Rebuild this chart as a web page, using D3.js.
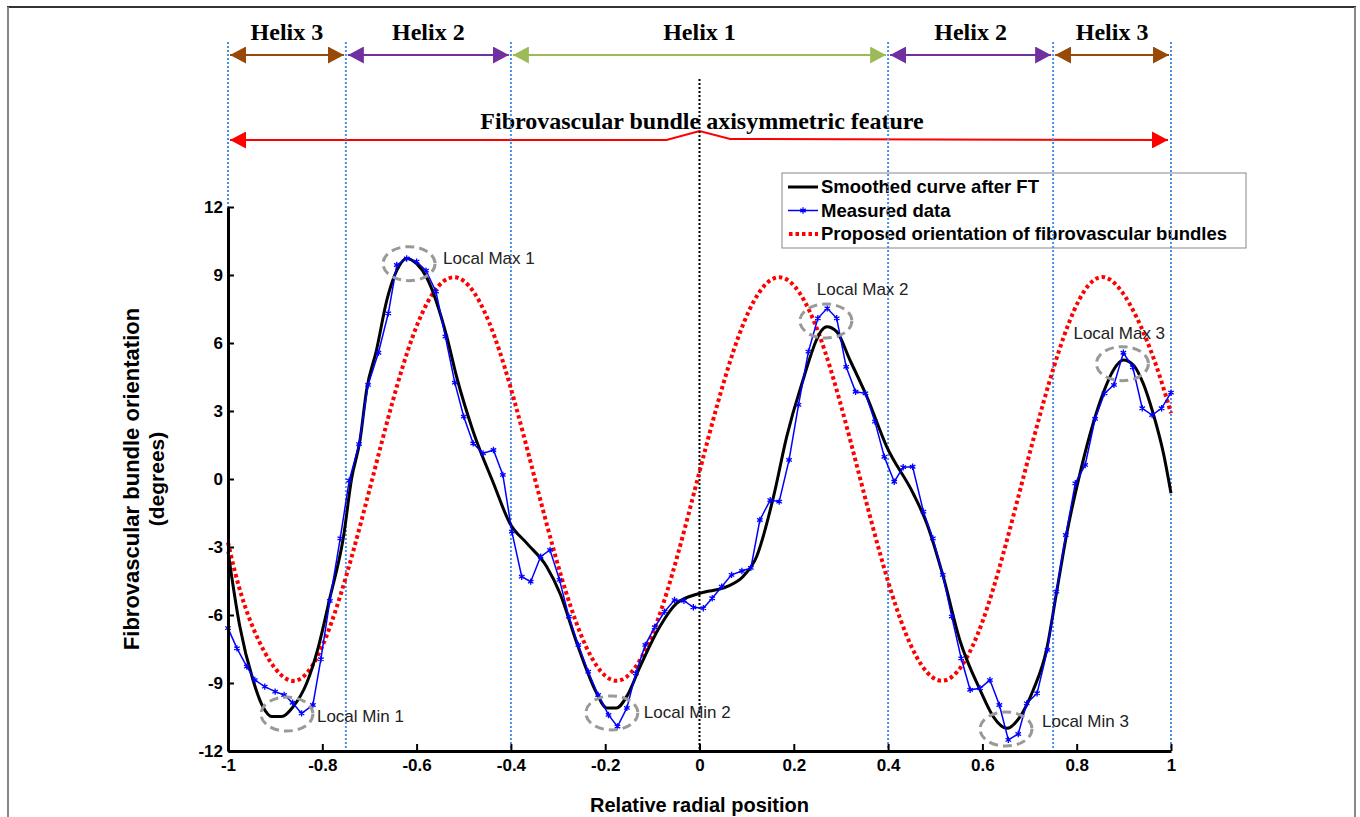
<!DOCTYPE html>
<html>
<head>
<meta charset="utf-8">
<script src="https://cdn.jsdelivr.net/npm/d3@7"></script>
<style>
  body { margin: 0; background: #fff; }
  text { font-family: "Liberation Sans", Arial, sans-serif; }
</style>
</head>
<body>
<svg width="1360" height="817"></svg>
<script>
// tick labels
var xTicks = [-1, -0.8, -0.6, -0.4, -0.2, 0, 0.2, 0.4, 0.6, 0.8, 1];
var yTicks = [-12, -9, -6, -3, 0, 3, 6, 9, 12];

// smoothed curve after FT
var smoothX = [-1, -0.975, -0.947, -0.926, -0.907, -0.886, -0.862, -0.833, -0.808, -0.785, -0.755, -0.738, -0.72, -0.706, -0.685, -0.663, -0.642, -0.621, -0.6, -0.579, -0.536, -0.515, -0.48, -0.437, -0.402, -0.366, -0.324, -0.296, -0.26, -0.218, -0.197, -0.176, -0.154, -0.126, -0.084, -0.048, 0.001, 0.058, 0.093, 0.121, 0.157, 0.185, 0.213, 0.27, 0.291, 0.319, 0.355, 0.397, 0.453, 0.482, 0.517, 0.552, 0.595, 0.623, 0.652, 0.68, 0.708, 0.736, 0.757, 0.779, 0.807, 0.835, 0.856, 0.878, 0.899, 0.92, 0.941, 0.962, 0.984, 1];
var smoothY = [-3.2, -6.5, -8.87, -10.05, -10.48, -10.48, -10.05, -9.0, -7.38, -5.34, -2.54, 0.0, 1.72, 3.93, 5.69, 7.9, 9.2, 9.73, 9.5, 8.9, 6.28, 4.5, 2.1, -0.19, -1.96, -2.84, -3.87, -5.04, -7.25, -9.45, -10.1, -10.1, -9.58, -8.28, -6.51, -5.48, -5.04, -4.75, -4.29, -3.43, -0.78, 1.87, 3.93, 6.72, 6.5, 5.25, 3.63, 1.43, -0.63, -1.96, -4.31, -7.1, -9.3, -10.48, -11.0, -10.48, -9.3, -7.54, -5.04, -2.4, 0.25, 2.46, 3.78, 4.81, 5.25, 5.03, 4.22, 2.9, 1.13, -0.63];

// measured data
var measuredX = [-1, -0.981, -0.96, -0.943, -0.922, -0.9, -0.881, -0.863, -0.844, -0.82, -0.803, -0.784, -0.762, -0.743, -0.722, -0.703, -0.681, -0.66, -0.642, -0.621, -0.6, -0.58, -0.559, -0.539, -0.519, -0.5, -0.48, -0.459, -0.437, -0.417, -0.398, -0.377, -0.358, -0.337, -0.317, -0.297, -0.277, -0.257, -0.236, -0.215, -0.193, -0.174, -0.154, -0.135, -0.115, -0.095, -0.074, -0.053, -0.033, -0.013, 0.008, 0.027, 0.047, 0.068, 0.09, 0.109, 0.128, 0.15, 0.169, 0.19, 0.21, 0.231, 0.251, 0.271, 0.291, 0.311, 0.331, 0.352, 0.372, 0.392, 0.413, 0.432, 0.452, 0.475, 0.495, 0.516, 0.535, 0.555, 0.574, 0.595, 0.616, 0.636, 0.655, 0.676, 0.694, 0.716, 0.738, 0.757, 0.777, 0.797, 0.818, 0.839, 0.859, 0.879, 0.899, 0.919, 0.939, 0.96, 0.98, 1];
var measuredY = [-6.58, -7.47, -8.28, -8.87, -9.16, -9.38, -9.53, -9.87, -10.34, -9.97, -7.95, -5.38, -2.62, -0.07, 1.54, 4.15, 5.57, 7.31, 9.44, 9.73, 9.59, 9.19, 8.27, 6.28, 4.25, 2.75, 1.57, 1.13, 1.28, 0.18, -2.32, -4.31, -4.53, -3.43, -3.13, -4.45, -6.07, -7.32, -8.5, -9.53, -10.41, -10.92, -10.1, -8.57, -7.32, -6.54, -5.85, -5.34, -5.37, -5.66, -5.7, -5.26, -4.75, -4.23, -4.06, -3.92, -1.81, -0.93, -1.0, 0.84, 3.27, 5.62, 7.09, 7.53, 7.09, 4.95, 3.85, 3.78, 2.53, 0.98, -0.12, 0.52, 0.54, -1.44, -2.62, -4.23, -6.07, -7.91, -9.3, -9.23, -8.87, -9.97, -11.51, -11.25, -9.9, -9.45, -7.54, -4.97, -2.47, -0.19, 0.62, 2.65, 3.78, 4.15, 5.57, 4.93, 3.12, 2.82, 3.12, 3.81];

// proposed orientation of fibrovascular bundles
var proposedX = [-1, -0.952, -0.866, -0.78, -0.694, -0.608, -0.521, -0.435, -0.349, -0.262, -0.176, -0.09, -0.004, 0.083, 0.169, 0.255, 0.341, 0.428, 0.514, 0.6, 0.686, 0.773, 0.859, 0.945, 1];
var proposedY = [-2.8, -6.3, -8.9, -6.3, 0, 6.3, 8.9, 6.3, 0, -6.3, -8.9, -6.3, 0, 6.3, 8.9, 6.3, 0, -6.3, -8.9, -6.3, 0, 6.3, 8.9, 6.3, 2.9];

// helix regions
var helixNames = ["Helix 3", "Helix 2", "Helix 1", "Helix 2", "Helix 3"];
var helixBounds = [-1, -0.75, -0.4, 0.4, 0.75, 1];
var helixColors = ["#984807", "#7030a0", "#9bbb59", "#7030a0", "#984807"];

// local extrema annotations
var localNames = ["Local Max 1", "Local Min 1", "Local Min 2", "Local Max 2", "Local Min 3", "Local Max 3"];
var localX = [-0.616, -0.875, -0.186, 0.268, 0.65, 0.897];
var localY = [9.5, -10.37, -10.32, 6.97, -11.03, 5.09];
var localLabelDx = [34, 30, 32, -9, 36, -49];
var localLabelDy = [-6, 2, -1, -32, -8, -31];

var svg = d3.select("svg"),
  width = +svg.attr("width"),
  height = +svg.attr("height");

var margin = {left: 228, right: 189, top: 207, bottom: 66};

var x = d3.scaleLinear()
  .domain([-1, 1])
  .range([margin.left, width - margin.right]);

var y = d3.scaleLinear()
  .domain([-12, 12])
  .range([height - margin.bottom, margin.top]);

// outer frame
svg.append("line").attr("x1", 7).attr("x2", 1356).attr("y1", 7).attr("y2", 7)
  .attr("stroke", "#333").attr("stroke-width", 2);
svg.append("line").attr("x1", 8).attr("x2", 8).attr("y1", 7).attr("y2", height)
  .attr("stroke", "#888").attr("stroke-width", 2);
svg.append("line").attr("x1", 1355).attr("x2", 1355).attr("y1", 7).attr("y2", height)
  .attr("stroke", "#888").attr("stroke-width", 2);

// arrow heads
var defs = svg.append("defs");
function arrowMarker(id, color) {
  defs.append("marker")
    .attr("id", id)
    .attr("viewBox", "0 0 16 17")
    .attr("refX", 16).attr("refY", 8.5)
    .attr("markerWidth", 16).attr("markerHeight", 17)
    .attr("markerUnits", "userSpaceOnUse")
    .attr("orient", "auto-start-reverse")
    .append("path")
      .attr("d", "M0,0L16,8.5L0,17Z")
      .attr("fill", color);
}
helixColors.forEach(function(c, i) { arrowMarker("arr" + i, c); });
arrowMarker("arrRed", "#ff0000");

// helix arrows and labels
var helixY = 55;
helixNames.forEach(function(name, i) {
  var x0 = x(helixBounds[i]) + 2, x1 = x(helixBounds[i + 1]) - 2;
  svg.append("line")
    .attr("x1", x0).attr("x2", x1)
    .attr("y1", helixY).attr("y2", helixY)
    .attr("stroke", helixColors[i])
    .attr("stroke-width", 2)
    .attr("marker-start", "url(#arr" + i + ")")
    .attr("marker-end", "url(#arr" + i + ")");
  svg.append("text")
    .attr("x", (x0 + x1) / 2)
    .attr("y", 40)
    .attr("text-anchor", "middle")
    .style("font-family", "'Liberation Serif', 'DejaVu Serif', serif")
    .style("font-weight", "bold")
    .style("font-size", "24px")
    .text(name);
});

// axisymmetric feature arrow
var redY = 140;
svg.append("path")
  .attr("d", d3.line()([
    [x(-1) + 2, redY], [x(-0.07), redY], [x(0), redY - 9],
    [x(0.065), redY - 1], [x(1) - 3, redY]
  ]))
  .attr("fill", "none")
  .attr("stroke", "#ff0000")
  .attr("stroke-width", 2)
  .attr("marker-start", "url(#arrRed)")
  .attr("marker-end", "url(#arrRed)");
svg.append("text")
  .attr("x", 702)
  .attr("y", 129)
  .attr("text-anchor", "middle")
  .style("font-family", "'Liberation Serif', 'DejaVu Serif', serif")
  .style("font-weight", "bold")
  .style("font-size", "24px")
  .text("Fibrovascular bundle axisymmetric feature");

// legend (no fill, the dotted guides run across it)
var lg = svg.append("g").attr("transform", "translate(782,173)");
lg.append("rect")
  .attr("width", 464).attr("height", 75)
  .attr("fill", "none").attr("stroke", "#888").attr("stroke-width", 1);
var legendNames = ["Smoothed curve after FT", "Measured data", "Proposed orientation of fibrovascular bundles"];
legendNames.forEach(function(name, i) {
  var ly = 14 + i * 23.5;
  var ln = lg.append("line")
    .attr("x1", 6).attr("x2", 36).attr("y1", ly).attr("y2", ly);
  if (i == 0) ln.attr("stroke", "#000").attr("stroke-width", 3);
  if (i == 1) {
    ln.attr("stroke", "#0000ff").attr("stroke-width", 1.5);
    lg.append("path")
      .attr("transform", "translate(21," + ly + ")")
      .attr("d", d3.symbol(d3.symbolAsterisk, 28)())
      .attr("stroke", "#0000ff").attr("stroke-width", 1.3).attr("fill", "none");
  }
  if (i == 2) ln.attr("x1", 7).attr("stroke", "#ff0000").attr("stroke-width", 4).attr("stroke-dasharray", "3.5,3");
  lg.append("text")
    .attr("x", 39).attr("y", ly)
    .attr("dy", "0.35em")
    .style("font-weight", "bold")
    .style("font-size", "18.5px")
    .text(name);
});

// vertical dotted guides
helixBounds.forEach(function(b) {
  svg.append("line")
    .attr("x1", x(b)).attr("x2", x(b))
    .attr("y1", 42).attr("y2", y(-12))
    .attr("stroke", "#4a90e2")
    .attr("stroke-width", 2)
    .attr("stroke-dasharray", "2,2");
});
svg.append("line")
  .attr("x1", x(0)).attr("x2", x(0))
  .attr("y1", 79).attr("y2", y(-12))
  .attr("stroke", "#000")
  .attr("stroke-width", 2)
  .attr("stroke-dasharray", "2,2");

// proposed orientation (red dotted)
svg.append("path")
  .datum(d3.zip(proposedX, proposedY))
  .attr("fill", "none")
  .attr("stroke", "#ff0000")
  .attr("stroke-width", 4)
  .attr("stroke-dasharray", "3.5,3")
  .attr("d", d3.line()
    .x(function(d) { return x(d[0]); })
    .y(function(d) { return y(d[1]); })
    .curve(d3.curveNatural));

// smoothed curve
svg.append("path")
  .datum(d3.zip(smoothX, smoothY))
  .attr("fill", "none")
  .attr("stroke", "#000")
  .attr("stroke-width", 3)
  .attr("stroke-linejoin", "round")
  .attr("d", d3.line()
    .x(function(d) { return x(d[0]); })
    .y(function(d) { return y(d[1]); })
    .curve(d3.curveMonotoneX));

// measured data
var measured = d3.zip(measuredX, measuredY);
svg.append("path")
  .datum(measured)
  .attr("fill", "none")
  .attr("stroke", "#0000ff")
  .attr("stroke-width", 1.5)
  .attr("d", d3.line()
    .x(function(d) { return x(d[0]); })
    .y(function(d) { return y(d[1]); }));
svg.append("g")
  .selectAll("path")
  .data(measured)
  .enter()
  .append("path")
    .attr("transform", function(d) { return "translate(" + x(d[0]) + "," + y(d[1]) + ")"; })
    .attr("d", d3.symbol(d3.symbolAsterisk, 28)())
    .attr("stroke", "#0000ff")
    .attr("stroke-width", 1.3)
    .attr("fill", "none");

// local extrema
localNames.forEach(function(name, i) {
  var cx = x(localX[i]), cy = y(localY[i]);
  svg.append("ellipse")
    .attr("cx", cx).attr("cy", cy)
    .attr("rx", 26).attr("ry", 17)
    .attr("fill", "none")
    .attr("stroke", "#999")
    .attr("stroke-width", 3)
    .attr("stroke-dasharray", "9,5");
  svg.append("text")
    .attr("x", cx + localLabelDx[i])
    .attr("y", cy + localLabelDy[i])
    .attr("dy", "0.35em")
    .style("font-size", "17px")
    .style("fill", "#222")
    .text(name);
});

// axes
var fmt = function(d) { return String(d); };
var gx = svg.append("g")
  .attr("transform", "translate(0," + y(-12) + ")")
  .call(d3.axisBottom(x).tickValues(xTicks).tickFormat(fmt)
    .tickSizeInner(-7).tickSizeOuter(0).tickPadding(8));
var gy = svg.append("g")
  .attr("transform", "translate(" + x(-1) + ",0)")
  .call(d3.axisLeft(y).tickValues(yTicks).tickFormat(fmt)
    .tickSizeInner(-6).tickSizeOuter(0).tickPadding(5));
[gx, gy].forEach(function(g) {
  g.select(".domain").attr("stroke-width", 3).attr("stroke", "#000");
  g.selectAll(".tick line").attr("stroke-width", 2).attr("stroke", "#000");
  g.selectAll(".tick text")
    .style("font-family", "'Liberation Sans', Arial, sans-serif")
    .style("font-weight", "bold")
    .style("font-size", "17px")
    .attr("fill", "#000");
});

// axis titles
svg.append("text")
  .attr("x", x(0)).attr("y", 812)
  .attr("text-anchor", "middle")
  .style("font-weight", "bold")
  .style("font-size", "20px")
  .text("Relative radial position");
svg.append("text")
  .attr("transform", "translate(139," + y(0) + ") rotate(-90)")
  .attr("text-anchor", "middle")
  .style("font-weight", "bold")
  .style("font-size", "22px")
  .text("Fibrovascular bundle orientation");
svg.append("text")
  .attr("transform", "translate(164," + y(0) + ") rotate(-90)")
  .attr("text-anchor", "middle")
  .style("font-weight", "bold")
  .style("font-size", "21px")
  .text("(degrees)");
</script>
</body>
</html>
